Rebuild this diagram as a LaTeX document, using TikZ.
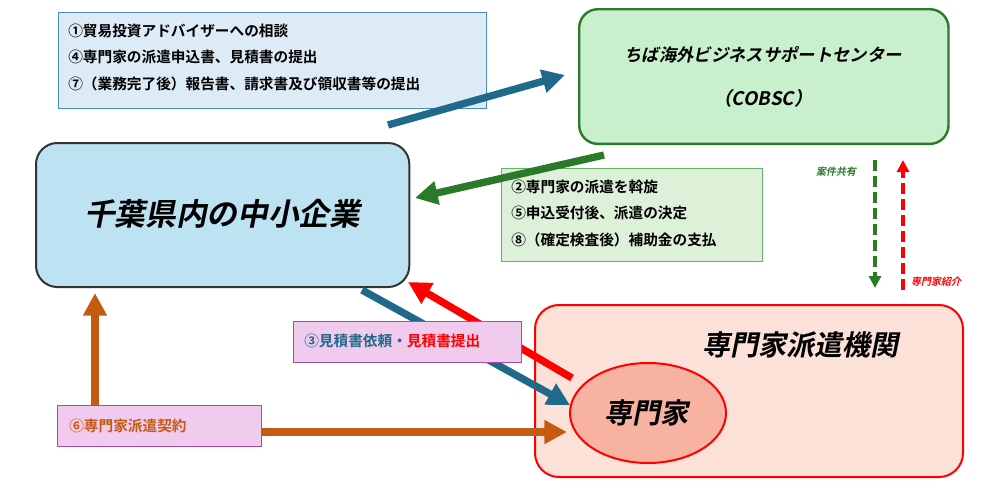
\documentclass[tikz,border=0pt]{standalone}
\usepackage{fontspec}
\setmainfont{Noto Sans CJK JP}[BoldFont={* Bold}]
\newfontfamily\jpi{Noto Sans CJK JP}[FakeSlant=0.2,BoldFont={* Bold},BoldFeatures={FakeSlant=0.2}]
\usetikzlibrary{arrows.meta,shapes.geometric}
\definecolor{tealb}{HTML}{1F6A8A}
\definecolor{dgreen}{HTML}{2A7A2A}
\definecolor{orng}{HTML}{C55A11}
\definecolor{lblue}{HTML}{DDEBF7}
\definecolor{cblue}{HTML}{BDE3F3}
\definecolor{lgreen}{HTML}{C9F0CD}
\definecolor{pgreen}{HTML}{DDF0D8}
\definecolor{lpeach}{HTML}{FBE1D8}
\definecolor{salmon}{HTML}{F8B2A2}
\definecolor{pink}{HTML}{F1CBEE}
\definecolor{bbord}{HTML}{4A8EB8}
\begin{document}
\begin{tikzpicture}[x=0.75pt,y=-0.75pt,
  arr/.style={line width=5.5pt,-{Triangle[length=17pt,width=17pt]}},
  txt/.style={font=\bfseries\fontsize{11pt}{13pt}\selectfont,anchor=west,inner sep=0},
  big/.style={font=\jpi\bfseries\fontsize{21pt}{24pt}\selectfont}]
\useasboundingbox (0,0) rectangle (1000,494);
\node[draw=bbord,fill=lblue,line width=0.8pt,minimum width=321pt,minimum height=72pt,anchor=north west] (b1) at (58,12) {};
\node[txt] (t1) at (68,31) {①貿易投資アドバイザーへの相談};
\node[txt] (t2) at (68,57) {④専門家の派遣申込書、見積書の提出};
\node[txt] (t3) at (68,84) {⑦（業務完了後）報告書、請求書及び領収書等の提出};
\node[draw=dgreen,fill=lgreen,line width=1.8pt,rounded corners=14pt,minimum width=277pt,minimum height=101pt,anchor=north west] (co) at (578,8) {};
\node[font=\jpi\bfseries\fontsize{13pt}{15pt}\selectfont] (ct) at (763,55) {ちば海外ビジネスサポートセンター};
\node[font=\jpi\bfseries\fontsize{14pt}{16pt}\selectfont] (ct2) at (763,98) {（COBSC）};
\node[draw=black!80,fill=cblue,line width=1.5pt,rounded corners=16pt,minimum width=280pt,minimum height=108pt,anchor=north west] (sme) at (35,142) {};
\node[font=\jpi\bfseries\fontsize{23pt}{26pt}\selectfont] (smet) at (222,214) {千葉県内の中小企業};
\node[draw=green!50!black!60,fill=pgreen,line width=0.8pt,minimum width=196pt,minimum height=70pt,anchor=north west] (b2) at (501,168) {};
\node[txt] (u1) at (511,187) {②専門家の派遣を斡旋};
\node[txt] (u2) at (511,213) {⑤申込受付後、派遣の決定};
\node[txt] (u3) at (511,240) {⑧（確定検査後）補助金の支払};
\node[draw=red,fill=lpeach,line width=1.5pt,rounded corners=18pt,minimum width=321pt,minimum height=129pt,anchor=north west] (ag) at (534,304) {};
\node[big] (agt) at (800,345) {専門家派遣機関};
\draw[tealb,arr] (388,125) -- (565,75);
\draw[dgreen,arr] (604,155) -- (415,198);
\draw[red,arr] (572,378) -- (408,282);
\draw[tealb,arr] (362,290) -- (570,405);
\node[draw=red,fill=salmon,line width=1.5pt,ellipse,minimum width=117pt,minimum height=75pt] (ex) at (648,413) {};
\node[big] (ext) at (646,413) {専門家};
\node[draw=violet!70,fill=pink,line width=0.8pt,minimum width=171pt,minimum height=31pt,anchor=north west] (b3) at (293,321) {};
\node[txt,text=tealb] (b3t) at (304,341) {③見積書依頼・\textcolor{red}{見積書提出}};
\draw[orng,arr] (95,407) -- (95,293);
\draw[orng,arr] (262,432) -- (567,432);
\node[draw=violet!70,fill=pink,line width=0.8pt,minimum width=153pt,minimum height=31pt,anchor=north west] (b6) at (57,405) {};
\node[txt,text=orng] (b6t) at (69,426) {⑥専門家派遣契約};
\coordinate (d1) at (875,160); \coordinate (d2) at (875,288);
\coordinate (r1) at (903,290); \coordinate (r2) at (903,160);
\draw[dgreen,line width=2.8pt,dash pattern=on 8pt off 4pt,-{Triangle[length=9pt,width=9pt]}] (d1) -- (d2);
\draw[red,line width=2.8pt,dash pattern=on 8pt off 4pt,-{Triangle[length=9pt,width=9pt]}] (r1) -- (r2);
\node[font=\jpi\bfseries\fontsize{7.5pt}{9pt}\selectfont,text=dgreen] (l1) at (836,172) {案件共有};
\node[font=\jpi\bfseries\fontsize{7.5pt}{9pt}\selectfont,text=red] (l2) at (936,282) {専門家紹介};
\end{tikzpicture}
\end{document}
